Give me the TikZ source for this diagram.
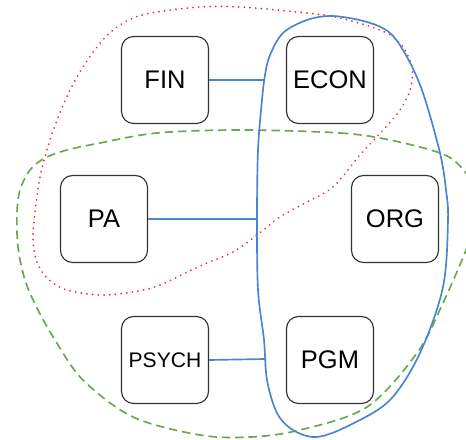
\documentclass[tikz,border=0pt]{standalone}
\usepackage{fontspec}
\setmainfont{Liberation Sans}
\definecolor{boxline}{HTML}{333333}
\definecolor{bluec}{HTML}{4A86D0}
\definecolor{redc}{HTML}{E8303A}
\definecolor{greenc}{HTML}{6AA84F}
\tikzset{
  box/.style={draw=boxline, line width=0.65pt, rounded corners=0.24cm, minimum width=1.74cm, minimum height=1.74cm, fill=white, inner sep=0pt, font=\fontsize{14.5}{17}\selectfont},
  smallbox/.style={box, font=\fontsize{12}{14}\selectfont},
  link/.style={draw=bluec, line width=0.95pt},
  bluegroup/.style={draw=bluec, line width=0.95pt},
  redgroup/.style={draw=redc, line width=1.1pt, dash pattern=on 0.05pt off 3.2pt, line cap=round},
  greengroup/.style={draw=greenc, line width=0.95pt, dash pattern=on 4.8pt off 2.8pt}
}
\begin{document}
\begin{tikzpicture}[x=0.02cm, y=-0.02cm]
\useasboundingbox (0,0) rectangle (466,439);
\clip (0,0) rectangle (466,439);
% boxes
\node[box] (fin) at (165,80) {FIN};
\node[box] (econ) at (330,80) {ECON};
\node[box] (pa) at (104,219) {PA};
\node[box] (org) at (395,219) {ORG};
\node[smallbox] (psych) at (165,360) {PSYCH};
\node[box] (pgm) at (330,360) {PGM};
% group outlines
\draw[redgroup] plot[smooth cycle, tension=0.55] coordinates {
 (240,7) (307,13) (340,18) (380,30) (400,43) (412,67) (410,90) (400,110) (385,128) (360,155) (333,187) (305,203) (280,217) (257,235) (233,252) (200,266) (160,285) (133,292) (100,295) (67,290) (48,279) (37,262) (33,240) (35,213) (40,177) (50,140) (60,113) (70,90) (83,67) (97,47) (113,30) (133,18) (157,12) (200,7)};
\draw[greengroup] plot[smooth cycle, tension=0.55] coordinates {
 (240,130) (340,133) (390,140) (440,153) (460,166) (476,190) (478,215) (466,250) (443,303) (417,353) (367,407) (300,430) (250,437) (200,435) (133,417) (83,380) (55,340) (37,308) (25,280) (18,247) (17,213) (20,190) (30,170) (45,158) (67,150) (100,143) (157,133)};
\draw[bluegroup] plot[smooth cycle, tension=0.55] coordinates {
 (333,16) (367,22) (390,33) (407,57) (423,93) (440,153) (446,190) (448,220) (443,287) (420,353) (390,400) (350,425) (317,437) (293,430) (277,413) (267,380) (264,340) (258,290) (257,219) (258,150) (262,100) (265,75) (270,55) (283,33) (307,20)};
% connector end points on the blue outline
\coordinate (finend) at (265,80);
\coordinate (paend) at (257,219);
\coordinate (psychend) at (265,359);
\draw[link] (fin.east) -- (finend);
\draw[link] (pa.east) -- (paend);
\draw[link] (psych.east) -- (psychend);
\end{tikzpicture}
\end{document}
